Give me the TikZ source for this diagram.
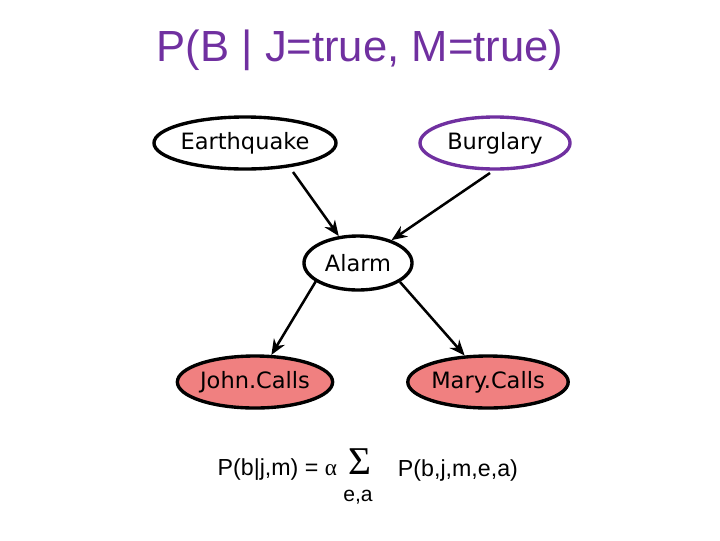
\documentclass[tikz,border=0pt]{standalone}
\usepackage{fontspec}
\setmainfont{Liberation Sans}
\newfontfamily\nodefont{DejaVu Sans}
\newfontfamily\symfont{Liberation Serif}
\usetikzlibrary{shapes.geometric,arrows.meta}
\definecolor{ttl}{RGB}{112,48,160}
\definecolor{sal}{RGB}{240,128,128}
\tikzset{bn/.style={ellipse,draw=black,line width=2.4pt,fill=white,minimum width=3.75cm,minimum height=1.3cm,inner sep=0pt,font=\nodefont\fontsize{16}{18}\selectfont},
 arr/.style={-{Stealth[length=11pt,width=9pt]},line width=1.8pt}}
\begin{document}
\begin{tikzpicture}[x=0.025cm,y=-0.025cm]
\useasboundingbox (0,0) rectangle (720,540);
\node[text=ttl,font=\fontsize{31}{34}\selectfont] (title) at (360,50) {P(B | J=true, M=true)};
\node[bn] (E) at (245,143) {Earthquake};
\node[bn,draw=ttl] (B) at (495,143) {Burglary};
\node[bn,minimum width=2.7cm,minimum height=1.35cm] (A) at (358,263) {Alarm};
\node[bn,fill=sal] (J) at (255,382) {John.Calls};
\node[bn,fill=sal] (M) at (488,382) {Mary.Calls};
\coordinate (e1) at (293,172); \coordinate (b1) at (490,173);
\coordinate (a1) at (316,281); \coordinate (a2) at (400,282);
\draw[arr] (e1) -- (A);
\draw[arr] (b1) -- (A);
\draw[arr] (a1) -- (J);
\draw[arr] (a2) -- (M);
\node[font=\fontsize{16.5}{18}\selectfont,anchor=east] (f1) at (342,470) {P(b|j,m) = {\symfont α}};
\node[font=\symfont\fontsize{28}{30}\selectfont] (sig) at (360,462) {Σ};
\node[font=\fontsize{15}{17}\selectfont] (ea) at (358,497) {e,a};
\node[font=\fontsize{16.5}{18}\selectfont,anchor=west] (f2) at (393,470) {P(b,j,m,e,a)};
\end{tikzpicture}
\end{document}
